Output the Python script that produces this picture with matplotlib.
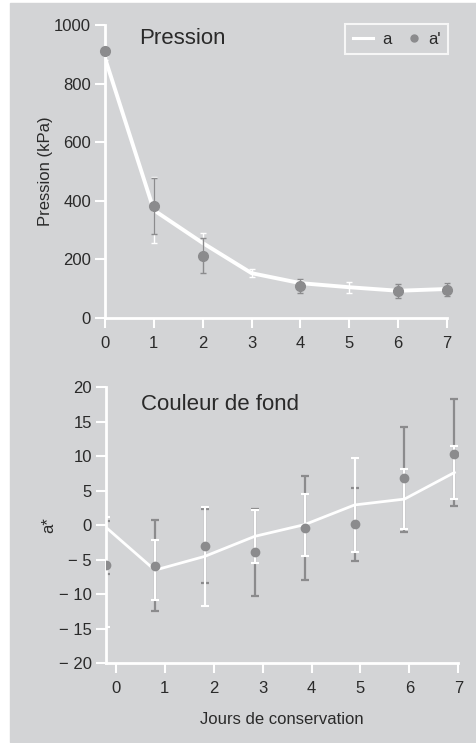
import numpy as np
import matplotlib.pyplot as plt
from matplotlib.patches import Rectangle
from matplotlib.lines import Line2D
from matplotlib.legend_handler import HandlerLine2D

plt.rcParams['font.family'] = ['Liberation Sans', 'DejaVu Sans']

# data - pression
days = [0, 1, 2, 3, 4, 5, 6, 7]
a_pression = [887, 368, 256, 153, 119, 105, 93, 99]
a_pression_err = [8, 112, 35, 13, 10, 18, 12, 20]
ap_pression = [912, 383, 213, np.nan, 110, np.nan, 93, 97]
ap_pression_err = [0, 96, 60, np.nan, 23, np.nan, 24, 21]

# data - couleur de fond (points plotted slightly left of the ticks)
days_fond = [-0.2, 0.8, 1.82, 2.84, 3.86, 4.88, 5.9, 6.92]
a_fond = [-0.3, -6.5, -4.5, -1.6, 0.1, 2.95, 3.8, 7.65]
a_fond_low = [14.4, 4.3, 7.2, 3.8, 4.5, 6.85, 4.4, 3.85]
a_fond_high = [1.45, 4.3, 7.2, 3.8, 4.5, 6.85, 4.4, 3.85]
ap_fond = [-5.75, -5.85, -3.0, -3.9, -0.4, 0.14, 6.8, 10.4]
ap_fond_low = [1.25, 6.6, 5.3, 6.3, 7.5, 5.25, 7.7, 7.55]
ap_fond_high = [6.4, 6.6, 5.3, 6.3, 7.5, 5.25, 7.5, 7.9]

y_ticks_fond = [-20, -15, -10, -5, 0, 5, 10, 15, 20]
y_labels_fond = ['\u2212 20', '\u2212 15', '\u2212 10', '\u2212 5', '0', '5', '10', '15', '20']

bg = '#d3d4d6'
grey = '#8b8b8d'
txt = '#2a2a2a'


class DotHandler(HandlerLine2D):
    # put the legend dot near the right end of its handle box
    def get_xdata(self, legend, xdescent, ydescent, width, height, fontsize):
        x = width - xdescent - 4
        return np.array([x - 1, x + 1]), np.array([x])


fig = plt.figure(figsize=(4.76, 7.43), dpi=100, facecolor='white')
fig.patches.append(Rectangle((10 / 476, 0.002), 1, 1 - 3 / 743 - 0.002,
                             transform=fig.transFigure, color=bg, zorder=-10))


def style(ax):
    ax.set_facecolor('none')
    for s in ['top', 'right']:
        ax.spines[s].set_visible(False)
    for s in ['left', 'bottom']:
        ax.spines[s].set_color('white')
        ax.spines[s].set_linewidth(2)
    ax.tick_params(colors='white', width=1.5, length=7, labelcolor=txt,
                   labelsize=12)
    ax.tick_params(axis='x', pad=6)
    ax.tick_params(axis='y', pad=3)


# chart1 - pression
ax1 = fig.add_axes([105 / 476, 1 - 318 / 743, 342 / 476, 293 / 743])
style(ax1)
ax1.errorbar(days, a_pression, yerr=a_pression_err, color='white', lw=2.8,
             elinewidth=1, capsize=2.5, capthick=1, zorder=3)
ax1.errorbar(days, ap_pression, yerr=ap_pression_err, fmt='o', color=grey,
             ms=7, elinewidth=1, capsize=2.5, capthick=1,
             zorder=4, clip_on=False)
ax1.set_xlim(0, 7)
ax1.set_ylim(0, 1000)
ax1.set_xticks(days)
ax1.set_yticks([0, 200, 400, 600, 800, 1000])
ax1.set_ylabel('Pression (kPa)', fontsize=12, color=txt, labelpad=1)
ax1.text(0.1, 0.99, 'Pression', transform=ax1.transAxes, fontsize=16,
         color=txt, va='top')

h_a = Line2D([], [], color='white', lw=2.2)
h_ap = Line2D([], [], color=grey, marker='o', ms=5, ls='none')
leg = ax1.legend([h_a, h_ap], ['a', "a'"], loc='upper right', ncol=2,
                 frameon=True, fancybox=False, fontsize=12,
                 handlelength=1.25, handletextpad=0.5, columnspacing=0.45,
                 borderaxespad=-0.05, borderpad=0.45,
                 handler_map={h_ap: DotHandler()})
leg.get_frame().set_facecolor(bg)
leg.get_frame().set_edgecolor('white')
leg.get_frame().set_linewidth(1.5)
for t in leg.get_texts():
    t.set_color(txt)

# chart2 - couleur de fond
ax2 = fig.add_axes([106 / 476, 1 - 663.3 / 743, 352.3 / 476, 276 / 743])
style(ax2)
ax2.errorbar(days_fond, ap_fond, yerr=[ap_fond_low, ap_fond_high], fmt='none',
             ecolor=grey, elinewidth=1.6, capsize=3, capthick=1.6, zorder=2)
ax2.errorbar(days_fond, a_fond, yerr=[a_fond_low, a_fond_high], color='white',
             lw=2, elinewidth=1.5, capsize=3, capthick=1.5, zorder=3)
ax2.plot(days_fond, ap_fond, 'o', color=grey, ms=6, zorder=4)
ax2.set_xlim(-0.2, 7)
ax2.set_ylim(-20, 20)
ax2.set_xticks(days)
ax2.set_yticks(y_ticks_fond)
ax2.set_yticklabels(y_labels_fond)
ax2.set_ylabel('a*', fontsize=12, color=txt, labelpad=2)
ax2.set_xlabel('Jours de conservation', fontsize=12, color=txt, labelpad=11)
ax2.text(0.1, 0.975, 'Couleur de fond', transform=ax2.transAxes, fontsize=16,
         color=txt, va='top')

plt.savefig('out.png', dpi=100)
